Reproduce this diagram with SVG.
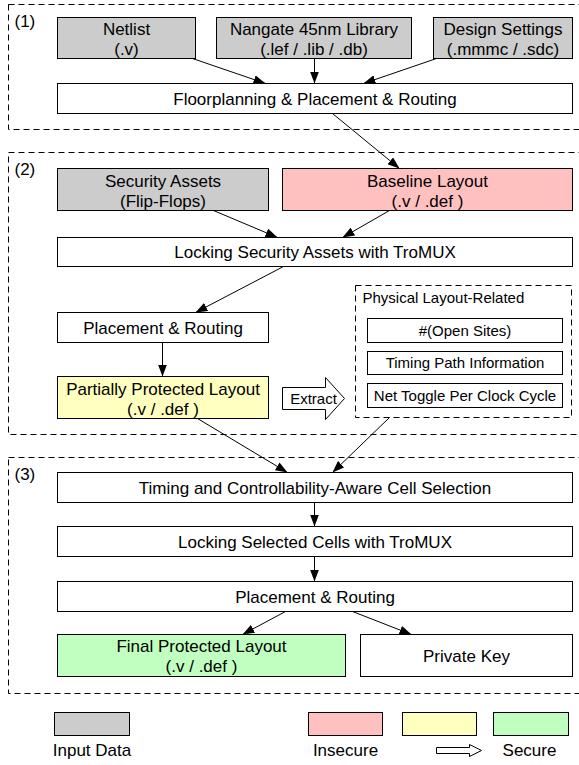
<svg xmlns="http://www.w3.org/2000/svg" width="579" height="765" viewBox="0 0 579 765">
<style>
text{font-family:"Liberation Sans",Arial,Helvetica,sans-serif;font-size:17px;fill:#000;text-anchor:middle}
.sm{font-size:15px}
.lt{text-anchor:start}
.box{stroke:#000;stroke-width:1}
.white{fill:#fff}
.gray{fill:#cccccc}
.pink{fill:#ffc0c0}
.yellow{fill:#ffffc0}
.green{fill:#c0ffc0}
.sec{fill:none;stroke:#000;stroke-width:1;stroke-dasharray:6 4}
.conn line{stroke:#000;stroke-width:1;marker-end:url(#ah)}
</style>
<defs>
<marker id="ah" viewBox="0 0 12 9" markerWidth="12" markerHeight="9" refX="12" refY="4.5" orient="auto" markerUnits="userSpaceOnUse">
<path d="M0,0 L12,4.5 L0,9 z" fill="#000"/>
</marker>
</defs>
<rect width="579" height="765" fill="#fff"/>
<g transform="translate(0.5,0.5)">
<g id="section1"><rect class="sec" x="8" y="4" width="573" height="125"/><text class="lt" x="14" y="26">(1)</text></g>
<g id="section2"><rect class="sec" x="8" y="152" width="573" height="282"/><text class="lt" x="14" y="174">(2)</text></g>
<g id="section3"><rect class="sec" x="8" y="457" width="573" height="236"/><text class="lt" x="14" y="479">(3)</text></g>

<g id="netlist"><rect class="box gray" x="57" y="17" width="138" height="41"/><text x="126" y="34">Netlist</text><text x="126" y="54">(.v)</text></g>
<g id="nangate"><rect class="box gray" x="216" y="17" width="195" height="41"/><text x="313.5" y="34">Nangate 45nm Library</text><text x="313.5" y="54">(.lef / .lib / .db)</text></g>
<g id="design"><rect class="box gray" x="433" y="17" width="139" height="41"/><text x="502.5" y="34">Design Settings</text><text x="502.5" y="54">(.mmmc / .sdc)</text></g>
<g id="floorplan"><rect class="box white" x="57" y="83" width="515" height="30"/><text x="314.5" y="104">Floorplanning &amp; Placement &amp; Routing</text></g>

<g id="security"><rect class="box gray" x="57" y="168" width="211" height="42"/><text x="162.5" y="186">Security Assets</text><text x="162.5" y="206">(Flip-Flops)</text></g>
<g id="baseline"><rect class="box pink" x="282" y="168" width="290" height="42"/><text x="427" y="186">Baseline Layout</text><text x="427" y="206">(.v / .def )</text></g>
<g id="locking1"><rect class="box white" x="57" y="237" width="515" height="29"/><text x="314.5" y="257.5">Locking Security Assets with TroMUX</text></g>
<g id="pr1"><rect class="box white" x="57" y="312" width="211" height="30"/><text x="162.5" y="333">Placement &amp; Routing</text></g>
<g id="partial"><rect class="box yellow" x="57" y="376" width="211" height="42"/><text x="162.5" y="394">Partially Protected Layout</text><text x="162.5" y="414">(.v / .def )</text></g>
<g id="extract"><polygon class="box white" points="282,387 325,387 325,377 344,398 325,419 325,409 282,409"/><text class="sm" x="313" y="403">Extract</text></g>
<g id="physical"><rect class="sec" x="355" y="285" width="216" height="132"/><text class="sm lt" x="362" y="302">Physical Layout-Related</text>
<rect class="box white" x="367" y="318" width="195" height="24"/><text class="sm" x="464.5" y="335">#(Open Sites)</text>
<rect class="box white" x="367" y="351" width="195" height="23"/><text class="sm" x="464.5" y="367.5">Timing Path Information</text>
<rect class="box white" x="367" y="383" width="195" height="24"/><text class="sm" x="464.5" y="400">Net Toggle Per Clock Cycle</text></g>

<g id="timing"><rect class="box white" x="57" y="472" width="515" height="30"/><text x="314.5" y="493">Timing and Controllability-Aware Cell Selection</text></g>
<g id="locking2"><rect class="box white" x="57" y="526" width="515" height="30"/><text x="314.5" y="547">Locking Selected Cells with TroMUX</text></g>
<g id="pr2"><rect class="box white" x="57" y="581" width="515" height="30"/><text x="314.5" y="602">Placement &amp; Routing</text></g>
<g id="final"><rect class="box green" x="57" y="634" width="288" height="42"/><text x="201" y="651">Final Protected Layout</text><text x="201" y="671">(.v / .def )</text></g>
<g id="privatekey"><rect class="box white" x="360" y="634" width="212" height="42"/><text x="466" y="661">Private Key</text></g>

<g id="legend">
<rect class="box gray" x="54" y="712" width="75" height="23"/><text x="91.5" y="755">Input Data</text>
<rect class="box pink" x="308" y="712" width="74" height="23"/>
<rect class="box yellow" x="402" y="712" width="74" height="23"/>
<rect class="box green" x="493" y="712" width="75" height="23"/>
<text x="345" y="755">Insecure</text>
<polygon class="box white" points="436,747 469,747 469,744 481,750 469,756 469,753 436,753"/>
<text x="529" y="755">Secure</text>
</g>

<g id="connectors" class="conn">
<line x1="192" y1="58" x2="265" y2="83"/>
<line x1="314" y1="58" x2="314" y2="83"/>
<line x1="436" y1="58" x2="363" y2="83"/>
<line x1="332" y1="113" x2="399" y2="168"/>
<line x1="213" y1="210" x2="277" y2="237"/>
<line x1="389" y1="210" x2="342" y2="237"/>
<line x1="283" y1="266" x2="195" y2="312"/>
<line x1="162" y1="342" x2="162" y2="376"/>
<line x1="197" y1="418" x2="287" y2="472"/>
<line x1="389" y1="417" x2="332" y2="472"/>
<line x1="314" y1="502" x2="314" y2="526"/>
<line x1="314" y1="556" x2="314" y2="581"/>
<line x1="285" y1="611" x2="242" y2="634"/>
<line x1="352" y1="611" x2="411" y2="634"/>
</g>
</g>
</svg>
